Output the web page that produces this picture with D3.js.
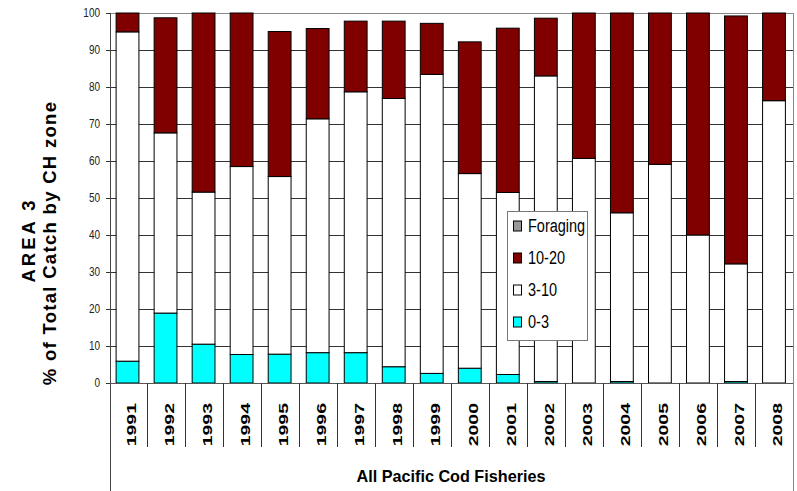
<!DOCTYPE html>
<html>
<head>
<meta charset="utf-8">
<script src="https://cdn.jsdelivr.net/npm/d3@7"></script>
<style>
  html, body { margin: 0; padding: 0; background: #fff; }
  svg { display: block; font-family: "Liberation Sans", Arial, sans-serif; }
</style>
</head>
<body>
<svg id="chart" width="797" height="491"></svg>
<script>
// ---- data ----
const years = ["1991","1992","1993","1994","1995","1996","1997","1998","1999","2000","2001","2002","2003","2004","2005","2006","2007","2008"];
const zone0_3   = [5.9, 18.9, 10.5, 7.7, 7.8, 8.2, 8.2, 4.4, 2.6, 4.0, 2.3, 0.4, 0, 0.4, 0, 0, 0.4, 0];
const zone3_10  = [89.0, 48.7, 41.1, 50.8, 48.0, 63.2, 70.5, 72.5, 80.8, 52.6, 49.2, 82.6, 60.7, 45.6, 59.1, 40.0, 31.8, 76.3];
const zone10_20 = [5.1, 31.1, 48.4, 41.5, 39.2, 24.4, 19.1, 20.9, 13.8, 35.6, 44.4, 15.6, 39.3, 54.0, 40.9, 60.0, 67.0, 23.7];
const foraging  = [0, 0, 0, 0, 0, 0, 0, 0, 0, 0, 0, 0, 0, 0, 0, 0, 0, 0];
const seriesNames = ["0-3", "3-10", "10-20", "Foraging"];
const yTicks = [0, 10, 20, 30, 40, 50, 60, 70, 80, 90, 100];
const groupLabel = "All Pacific Cod Fisheries";
const yTitle1 = "AREA 3";
const yTitle2 = "% of Total Catch by CH zone";

(function () {
// ---- styling ----
const colors = { "0-3": "#00FFFF", "3-10": "#FFFFFF", "10-20": "#800000", "Foraging": "#999999" };

const svg = d3.select("#chart");
const pL = 110, pR = 793, pT = 13, pB = 383;

const rows = years.map((yr, i) => ({
  year: yr, "0-3": zone0_3[i], "3-10": zone3_10[i], "10-20": zone10_20[i], "Foraging": foraging[i]
}));
const stack = d3.stack().keys(seriesNames)(rows);

const x = d3.scaleBand().domain(years).range([108.5, pR]).paddingInner(0.4).paddingOuter(0.2);
const y = d3.scaleLinear().domain([0, 100]).range([pB, pT]);

// gridlines
svg.append("g").selectAll("line").data(yTicks.filter(d => d > 0)).join("line")
  .attr("x1", pL).attr("x2", pR)
  .attr("y1", d => Math.round(y(d)) + 0.5).attr("y2", d => Math.round(y(d)) + 0.5)
  .attr("stroke", d => d === 100 ? "#888" : "#333").attr("stroke-width", 1);

// bars
svg.append("g").selectAll("g").data(stack).join("g")
  .attr("fill", d => colors[d.key])
  .selectAll("rect").data(d => d.filter(p => p[1] - p[0] > 0)).join("rect")
  .attr("x", d => x(d.data.year))
  .attr("width", x.bandwidth())
  .attr("y", d => y(d[1]))
  .attr("height", d => y(d[0]) - y(d[1]))
  .attr("stroke", "#000").attr("stroke-width", 1);

// y axis
const yAxis = d3.axisLeft(y).tickValues(yTicks).tickSize(4).tickSizeOuter(0).tickFormat(d3.format("d"));
const ya = svg.append("g").attr("transform", `translate(${pL},0)`).call(yAxis);
ya.select(".domain").remove();
ya.selectAll(".tick line").attr("stroke", "#333");
ya.selectAll(".tick text")
  .attr("font-size", 10).attr("fill", "#222")
  .attr("font-family", "'Liberation Sans', Arial, sans-serif")
  .attr("x", 0).attr("dy", null)
  .attr("transform", "translate(-10,0) scale(1,1.2)")
  .attr("dominant-baseline", "middle");

// frame lines
svg.append("line").attr("x1", pL + 0.5).attr("x2", pL + 0.5).attr("y1", pT).attr("y2", 491).attr("stroke", "#444");
svg.append("line").attr("x1", pR + 0.5).attr("x2", pR + 0.5).attr("y1", pT).attr("y2", 491).attr("stroke", "#888");
svg.append("line").attr("x1", pL).attr("x2", pR).attr("y1", pB + 0.5).attr("y2", pB + 0.5).attr("stroke", "#555");

// category separators
const step = x.step();
const bounds = years.slice(1).map(yr => x(yr) - (step - x.bandwidth()) / 2);
svg.append("g").selectAll("line").data(bounds).join("line")
  .attr("x1", d => Math.round(d) + 0.5).attr("x2", d => Math.round(d) + 0.5)
  .attr("y1", pB).attr("y2", 447).attr("stroke", "#333");

// year labels
svg.append("g").selectAll("text").data(years).join("text")
  .attr("transform", d => `translate(${x(d) + x.bandwidth() / 2 + 8.5},403) rotate(-90) scale(1.5,1)`)
  .attr("text-anchor", "end")
  .attr("font-size", 13).attr("font-weight", "bold").attr("fill", "#000")
  .text(d => d);

// group label
svg.append("text").attr("x", 451).attr("y", 482).attr("text-anchor", "middle")
  .attr("font-size", 16.2).attr("font-weight", "bold").attr("fill", "#000")
  .text(groupLabel);

// y titles
svg.append("text").attr("transform", "translate(35,240) rotate(-90)")
  .attr("text-anchor", "middle").attr("font-size", 18.5).attr("font-weight", "bold")
  .attr("letter-spacing", 3).text(yTitle1);
svg.append("text").attr("transform", "translate(56,243) rotate(-90)")
  .attr("text-anchor", "middle").attr("font-size", 18.5).attr("font-weight", "bold")
  .attr("letter-spacing", 1.3).text(yTitle2);

// legend
const lg = svg.append("g");
lg.append("rect").attr("x", 507.5).attr("y", 211.5).attr("width", 80).attr("height", 129)
  .attr("fill", "#fff").attr("stroke", "#777");
const legendItems = ["Foraging", "10-20", "3-10", "0-3"];
const lgY = d3.scalePoint().domain(legendItems).range([226, 322]);
const items = lg.selectAll("g").data(legendItems).join("g")
  .attr("transform", d => `translate(0,${lgY(d)})`);
items.append("rect").attr("x", 513.5).attr("y", -5).attr("width", 8).attr("height", 10)
  .attr("fill", d => colors[d]).attr("stroke", "#000");
items.append("text").attr("transform", "translate(528,6) scale(1,1.3)")
  .attr("font-size", 14.5).attr("fill", "#000").text(d => d);
})();
</script>
</body>
</html>
